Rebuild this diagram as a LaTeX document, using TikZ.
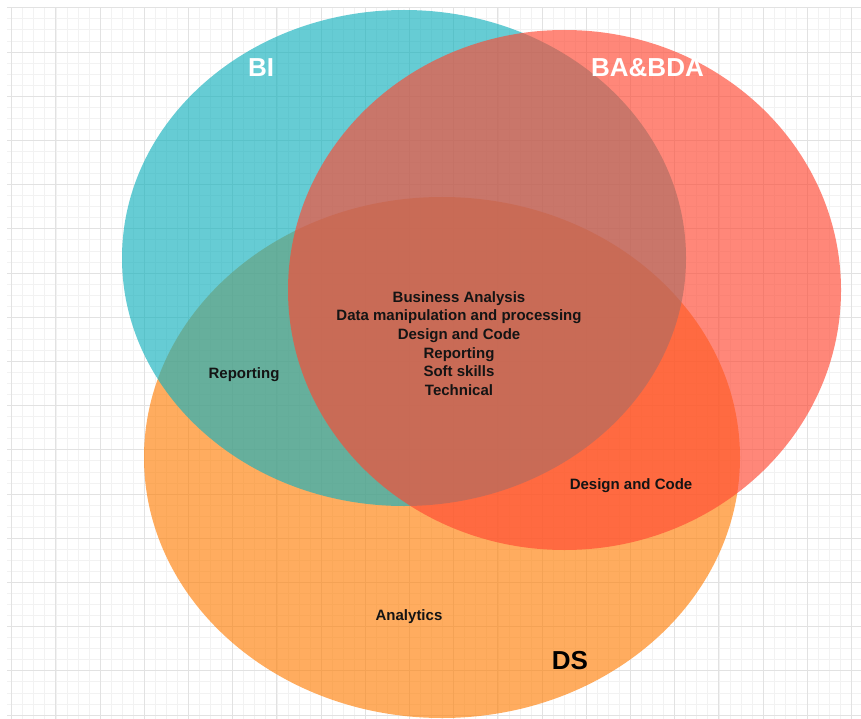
\documentclass[tikz,border=0pt]{standalone}
\usepackage{fontspec}
\setmainfont{Liberation Sans}
\definecolor{gridminor}{RGB}{242,242,242}
\definecolor{gridmajor}{RGB}{226,226,226}
\definecolor{biteal}{RGB}{20,177,189}
\definecolor{basalmon}{RGB}{255,72,50}
\definecolor{dsorange}{RGB}{255,129,10}
\definecolor{txtdark}{RGB}{20,20,20}
\begin{document}
\begin{tikzpicture}[x=1pt, y=-1pt,
    setfill/.style={fill=#1, fill opacity=0.65},
    setname/.style={font=\fontsize{26}{30}\selectfont\bfseries},
    skill/.style={font=\fontsize{15}{18.6}\selectfont\bfseries, text=txtdark, align=center}]
        \useasboundingbox[fill=white] (0,0) rectangle (861,719);
        % minor grid lines
        \foreach \k in {0,1,...,77}
            \draw[gridminor, line width=0.8pt] (11.7+11.05*\k, 8) -- (11.7+11.05*\k, 719);
        \foreach \k in {0,1,...,64}
            \draw[gridminor, line width=0.8pt] (7, 7.8+11.05*\k) -- (861, 7.8+11.05*\k);
        % major grid lines
        \foreach \k in {0,1,...,19}
            \draw[gridmajor, line width=0.9pt] (11.7+44.2*\k, 8) -- (11.7+44.2*\k, 719);
        \foreach \k in {0,1,...,16}
            \draw[gridmajor, line width=0.9pt] (7, 7.8+44.2*\k) -- (861, 7.8+44.2*\k);
        % the three sets, DS at the bottom
        \fill[setfill=dsorange] (442,457.5) ellipse [x radius=298, y radius=260.5];
        \fill[setfill=biteal] (404,258) ellipse [x radius=282, y radius=248];
        \fill[setfill=basalmon] (564.5,290) ellipse [x radius=276.5, y radius=260];
        % set names
        \node[setname, text=white] (bi) at (261,68) {BI};
        \node[setname, text=white] (babda) at (647.5,68) {BA\&BDA};
        \node[setname, text=black] (ds) at (570,661) {DS};
        % skills
        \node[skill] (core) at (459,343.5) {Business Analysis\\Data manipulation and processing\\Design and Code\\Reporting\\Soft skills\\Technical};
        \node[skill] (reporting) at (244,375) {Reporting};
        \node[skill] (design) at (631,486) {Design and Code};
        \node[skill] (analytics) at (409,617) {Analytics};
    \end{tikzpicture}
\end{document}
